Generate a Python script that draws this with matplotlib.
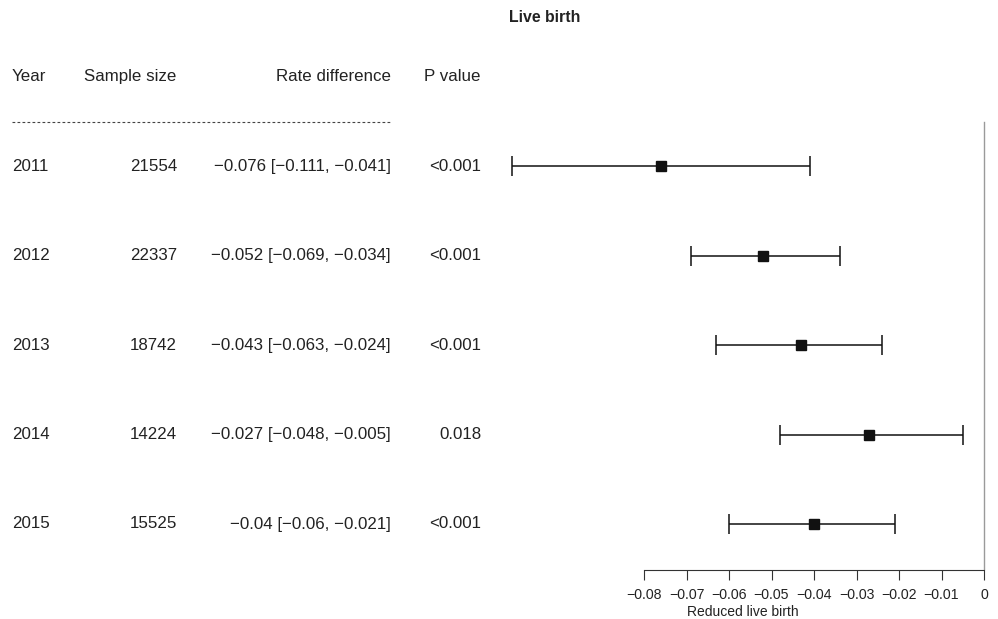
import matplotlib.pyplot as plt
import matplotlib.transforms as mtransforms

plt.rcParams['font.family'] = ['Liberation Sans', 'DejaVu Sans']

# data
years = ["2011", "2012", "2013", "2014", "2015"]
sample_size = ["21554", "22337", "18742", "14224", "15525"]
rate_diff = [-0.076, -0.052, -0.043, -0.027, -0.040]
ci_low = [-0.111, -0.069, -0.063, -0.048, -0.060]
ci_high = [-0.041, -0.034, -0.024, -0.005, -0.021]
rd_labels = ["\u22120.076 [\u22120.111, \u22120.041]",
             "\u22120.052 [\u22120.069, \u22120.034]",
             "\u22120.043 [\u22120.063, \u22120.024]",
             "\u22120.027 [\u22120.048, \u22120.005]",
             "\u22120.04 [\u22120.06, \u22120.021]"]
p_values = ["<0.001", "<0.001", "<0.001", "0.018", "<0.001"]
x_ticks = [-0.08, -0.07, -0.06, -0.05, -0.04, -0.03, -0.02, -0.01, 0]
x_tick_labels = ["\u22120.08", "\u22120.07", "\u22120.06", "\u22120.05", "\u22120.04",
                 "\u22120.03", "\u22120.02", "\u22120.01", "0"]

W, H = 998, 619
fig = plt.figure(figsize=(W / 100, H / 100), dpi=100)
ax_bottom = 570
ax = fig.add_axes([0, (H - ax_bottom) / H, 1, ax_bottom / H])

# x scale: 0 at 984 px, 0.01 per 42.5 px
px_per_unit = 4250
ax.set_xlim(-984 / px_per_unit, (W - 984) / px_per_unit)
row_h = 89.4
ax.set_ylim((ax_bottom - 77) / row_h, -77 / row_h)

rows = list(range(1, len(years) + 1))
for r, rd, lo, hi in zip(rows, rate_diff, ci_low, ci_high):
    ax.errorbar(rd, r, xerr=[[rd - lo], [hi - rd]], fmt='s', color='#111111',
                ecolor='#111111', elinewidth=1.1, capsize=7, capthick=1.1,
                markersize=6.5)

ax.plot([0, 0], [0.5, ax.get_ylim()[0]], color='#9a9a9a', lw=1)

for s in ['top', 'left', 'right']:
    ax.spines[s].set_visible(False)
ax.spines['bottom'].set_bounds(-0.08, 0)
ax.spines['bottom'].set_color('#333333')
ax.set_yticks([])
ax.set_xticks(x_ticks)
ax.set_xticklabels(x_tick_labels, fontsize=10.2, color='#222222')
ax.tick_params(axis='x', length=7, width=0.8, color='#333333', pad=6)

tr = mtransforms.blended_transform_factory(fig.transFigure, ax.transData)
fs = 12.2
tc = '#222222'
ax.text(12 / W, 0, "Year", transform=tr, ha='left', va='center', fontsize=fs, color=tc)
ax.text(84 / W, 0, "Sample size", transform=tr, ha='left', va='center', fontsize=fs, color=tc)
ax.text(391 / W, 0, "Rate difference", transform=tr, ha='right', va='center', fontsize=fs, color=tc)
ax.text(481 / W, 0, "P value", transform=tr, ha='right', va='center', fontsize=fs, color=tc)
ax.plot([12 / W, 391 / W], [0.5, 0.5], transform=tr, color='#444444', lw=0.8,
        ls=(0, (2.5, 2)))

for r, y, n, lab, p in zip(rows, years, sample_size, rd_labels, p_values):
    ax.text(12 / W, r, y, transform=tr, ha='left', va='center', fontsize=fs, color=tc)
    ax.text(177 / W, r, n, transform=tr, ha='right', va='center', fontsize=fs, color=tc)
    ax.text(391 / W, r, lab, transform=tr, ha='right', va='center', fontsize=fs, color=tc)
    ax.text(481 / W, r, p, transform=tr, ha='right', va='center', fontsize=fs, color=tc)

fig.text(743 / W, 0.5 / H, "Reduced live birth", ha='center', va='bottom',
         fontsize=10, color=tc)
fig.text(545 / W, 1 - 17 / H, "Live birth", ha='center', va='center',
         fontsize=11.4, fontweight='bold', color=tc)

fig.savefig("out.png", dpi=100)
